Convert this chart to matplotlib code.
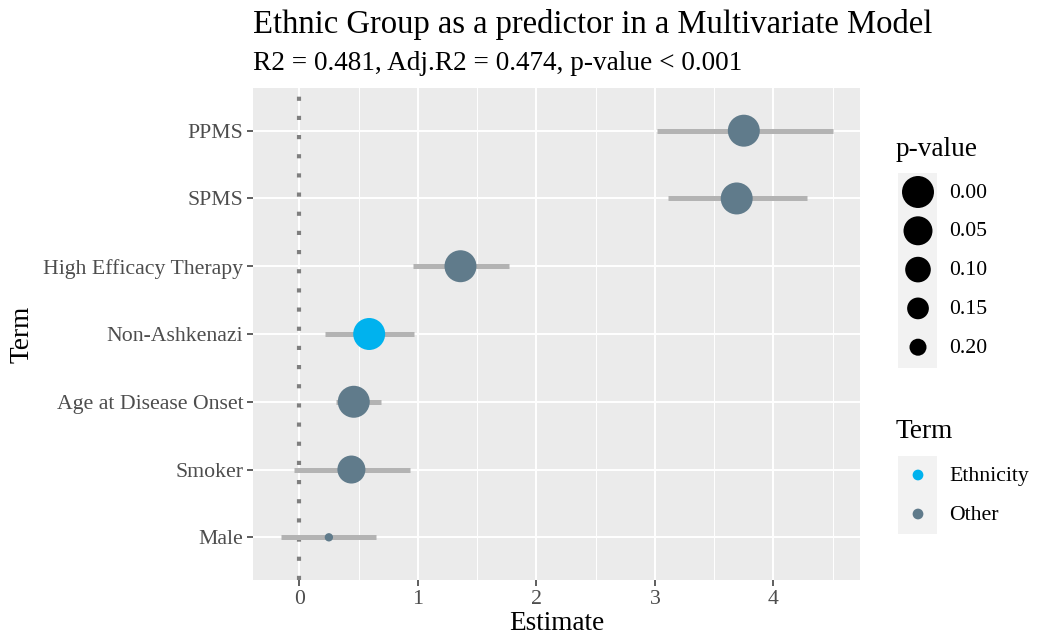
import matplotlib.pyplot as plt
import numpy as np

# data
terms = ["Male", "Smoker", "Age at Disease Onset", "Non-Ashkenazi",
         "High Efficacy Therapy", "SPMS", "PPMS"]
estimate = [0.25, 0.44, 0.46, 0.59, 1.36, 3.69, 3.75]
ci_low = [-0.15, -0.04, 0.31, 0.22, 0.96, 3.11, 3.02]
ci_high = [0.65, 0.935, 0.69, 0.97, 1.77, 4.28, 4.50]
p_value = [0.26, 0.065, 0.0, 0.0, 0.0, 0.0, 0.0]
group = ["Other", "Other", "Other", "Ethnicity", "Other", "Other", "Other"]
p_breaks = [0.00, 0.05, 0.10, 0.15, 0.20]
group_names = ["Ethnicity", "Other"]

colors = {"Ethnicity": "#00B2EE", "Other": "#607B8B"}


def psize(p):
    # area shrinks linearly with p-value
    return np.maximum(530 - 1900 * np.asarray(p), 20)


plt.rcParams['font.family'] = ['Liberation Serif', 'DejaVu Serif']
base = 19.6
small = 15.7

fig = plt.figure(figsize=(10.41, 6.37), dpi=100)
ax = fig.add_axes([253 / 1041, 1 - 580 / 637, (860 - 253) / 1041, (580 - 88) / 637])
ax.set_facecolor("#EBEBEB")
for s in ax.spines.values():
    s.set_visible(False)

ypos = np.arange(1, len(terms) + 1)
ax.set_xlim(-0.39, 4.73)
ax.set_ylim(0.37, 7.63)

# grid
for xv in np.arange(-0.5, 5.0, 0.5):
    major = float(xv).is_integer()
    ax.axvline(xv, color="white", lw=1.4 if major else 0.7, zorder=0)
for yv in ypos:
    ax.axhline(yv, color="white", lw=1.4, zorder=0)

ax.axvline(0, color="#7F7F7F", lw=3.0, linestyle=(0, (1, 3.6)),
           dash_capstyle="butt", zorder=1)
ax.hlines(ypos, ci_low, ci_high, color="#B3B3B3", lw=3.6, zorder=2)
ax.scatter(estimate, ypos, s=psize(p_value),
           c=[colors[g] for g in group], linewidths=0, zorder=3)

ax.set_yticks(ypos)
ax.set_yticklabels(terms)
ax.set_xticks([0, 1, 2, 3, 4])
ax.set_xticklabels(["0", "1", "2", "3", "4"])
ax.tick_params(axis="both", colors="#333333", labelcolor="#4D4D4D",
               labelsize=small, length=4, width=1.1, pad=3)
ax.set_xlabel("Estimate", fontsize=base, labelpad=2)
ax.set_ylabel("Term", fontsize=base, labelpad=6)

fig.text(253 / 1041, 1 - 24 / 637, "Ethnic Group as a predictor in a Multivariate Model",
         fontsize=23.5, va="center", ha="left")
fig.text(253 / 1041, 1 - 63 / 637, "R2 = 0.481, Adj.R2 = 0.474, p-value < 0.001",
         fontsize=base, va="center", ha="left")

# legends drawn in a pixel-coordinate overlay
lax = fig.add_axes([0, 0, 1, 1], facecolor="none")
lax.set_xlim(0, 1041)
lax.set_ylim(637, 0)
lax.axis("off")

lax.text(896, 150, "p-value", fontsize=base, va="center", ha="left")
ky = 192 + 38.8 * np.arange(len(p_breaks))
lax.add_patch(plt.Rectangle((898, 173), 39, 39 * len(p_breaks), color="#F2F2F2", lw=0))
lax.scatter(np.full(len(p_breaks), 918), ky, s=psize(p_breaks), c="black", linewidths=0)
for yv, b in zip(ky, p_breaks):
    lax.text(949, yv + 1, f"{b:.2f}", fontsize=small, va="center", ha="left")

lax.text(896, 431, "Term", fontsize=base, va="center", ha="left")
gy = 475 + 39 * np.arange(len(group_names))
lax.add_patch(plt.Rectangle((898, 456), 39, 39 * len(group_names), color="#F2F2F2", lw=0))
lax.scatter(np.full(len(group_names), 918), gy, s=60,
            c=[colors[g] for g in group_names], linewidths=0)
for yv, g in zip(gy, group_names):
    lax.text(949, yv + 1, g, fontsize=small, va="center", ha="left")

fig.savefig("out.png", dpi=100)
